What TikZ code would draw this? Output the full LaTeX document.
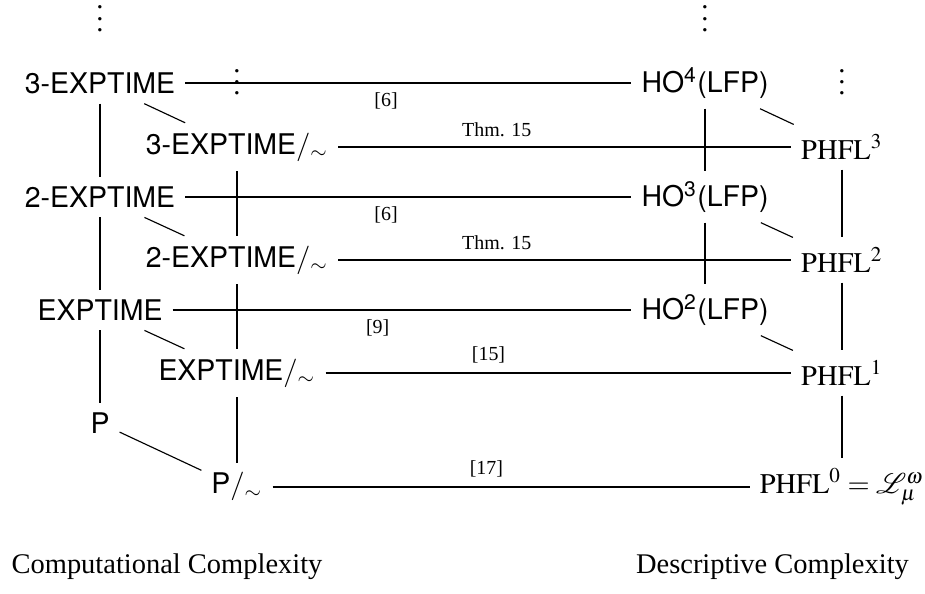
\documentclass[tikz,border=0pt]{standalone}
\usepackage{mathptmx}
\usepackage{mathrsfs}
\usepackage{fontspec}
\setmainfont{Liberation Serif}
\setsansfont{TeX Gyre Heros}
\usepackage{tikz}

\begin{document}
\begin{tikzpicture}[cls/.style={font=\sffamily},lbl/.style={font=\scriptsize}]
            \useasboundingbox (0,0) rectangle (11.42,-7.333);
            \node (dotsA) at (1.235,-0.13) {$\vdots$};
            \node (dotsB) at (2.926,-0.91) {$\vdots$};
            \node (dotsC) at (8.704,-0.13) {$\vdots$};
            \node (dotsD) at (10.395,-0.91) {$\vdots$};
            \node[cls] (exp3) at (1.235,-1.025) {3-EXPTIME};
            \node[cls] (exp2) at (1.235,-2.432) {2-EXPTIME};
            \node[cls] (exp1) at (1.235,-3.827) {EXPTIME};
            \node[cls] (ptime) at (1.235,-5.222) {P};
            \node[cls] (exp3q) at (2.926,-1.815) {3-EXPTIME$/_{\sim}$};
            \node[cls] (exp2q) at (2.926,-3.210) {2-EXPTIME$/_{\sim}$};
            \node[cls] (exp1q) at (2.926,-4.605) {EXPTIME$/_{\sim}$};
            \node[cls] (ptimeq) at (2.926,-6.012) {P$/_{\sim}$};
            \node[cls] (ho4) at (8.704,-1.025) {HO\textsuperscript{4}(LFP)};
            \node[cls] (ho3) at (8.704,-2.432) {HO\textsuperscript{3}(LFP)};
            \node[cls] (ho2) at (8.704,-3.827) {HO\textsuperscript{2}(LFP)};
            \node (phfl3) at (10.395,-1.815) {$\mathrm{PHFL}^3$};
            \node (phfl2) at (10.395,-3.210) {$\mathrm{PHFL}^2$};
            \node (phfl1) at (10.395,-4.605) {$\mathrm{PHFL}^1$};
            \node (phfl0) at (10.395,-6.012) {$\mathrm{PHFL}^0 = \mathscr{L}_{\mu}^{\omega}$};
            \node (comp) at (2.062,-7.0) {Computational Complexity};
            \node (desc) at (9.537,-7.0) {Descriptive Complexity};
            \draw (exp3) -- (ho4) node[lbl,below,pos=0.45] {[6]};
            \draw (exp2) -- (ho3) node[lbl,below,pos=0.45] {[6]};
            \draw (exp1) -- (ho2) node[lbl,below,pos=0.447] {[9]};
            \draw (exp3q) -- (phfl3) node[lbl,above,pos=0.35] {Thm. 15};
            \draw (exp2q) -- (phfl2) node[lbl,above,pos=0.35] {Thm. 15};
            \draw (exp1q) -- (phfl1) node[lbl,above,pos=0.35] {[15]};
            \draw (ptimeq) -- (phfl0) node[lbl,above,pos=0.448] {[17]};
            \draw (exp3) -- (exp2);
            \draw (exp2) -- (exp1);
            \draw (exp1) -- (ptime);
            \draw (exp3q) -- (exp2q);
            \draw (exp2q) -- (exp1q);
            \draw (exp1q) -- (ptimeq);
            \draw (ho4) -- (ho3);
            \draw (ho3) -- (ho2);
            \draw (phfl3) -- (phfl2);
            \draw (phfl2) -- (phfl1);
            \draw (phfl1) -- (phfl0);
            \draw (exp3) -- (exp3q);
            \draw (exp2) -- (exp2q);
            \draw (exp1) -- (exp1q);
            \draw (ptime) -- (ptimeq);
            \draw (ho4) -- (phfl3);
            \draw (ho3) -- (phfl2);
            \draw (ho2) -- (phfl1);
        \end{tikzpicture}
\end{document}
